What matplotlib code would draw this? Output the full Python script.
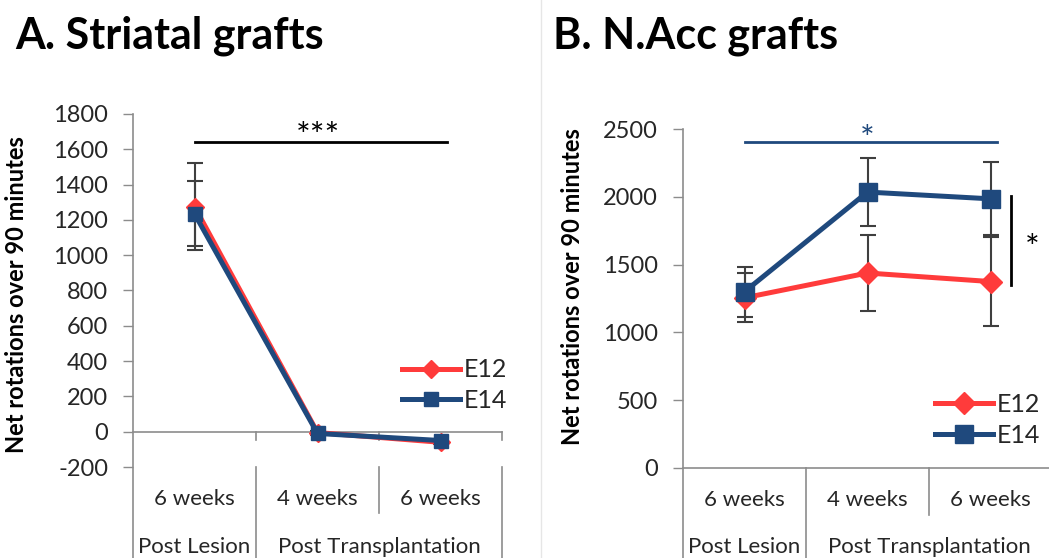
import matplotlib
matplotlib.use("Agg")
import matplotlib.pyplot as plt
from matplotlib.lines import Line2D

plt.rcParams['font.family'] = ['Lato', 'DejaVu Sans']

# ---- data ----
weeks = ["6 weeks", "4 weeks", "6 weeks"]
groups = ["Post Lesion", "Post Transplantation"]
series = ["E12", "E14"]

a_e12 = [1275, -5, -60]
a_e12_err = [245, 10, 10]
a_e14 = [1235, -10, -50]
a_e14_err = [185, 10, 10]

b_e12 = [1255, 1438, 1375]
b_e12_err = [180, 280, 325]
b_e14 = [1300, 2035, 1985]
b_e14_err = [183, 252, 268]

a_yticks = list(range(-200, 1801, 200))
b_yticks = list(range(0, 2501, 500))

RED = "#FF3B3B"
BLUE = "#1F497D"
GRAY = "#8C8C8C"
TXT = "#262626"
ERR = "#3F3F3F"

W, H = 1049, 558
fig = plt.figure(figsize=(W / 100, H / 100), dpi=100)


def px_axes(l, t, r, b):
    return fig.add_axes([l / W, (H - b) / H, (r - l) / W, (b - t) / H])


def setup(ax, ylim, yticks, ax_h_px, sep_px, zero_ticks, lab1_px, lab2_px):
    x = list(range(len(weeks)))
    ax.set_xlim(-0.5, 2.5)
    ax.set_ylim(*ylim)
    ax.set_yticks(yticks)
    ax.set_yticklabels([str(v) for v in yticks])
    ax.tick_params(axis='y', direction='out', length=7, width=1, color=GRAY,
                   labelcolor=TXT, labelsize=17, pad=11)
    ax.set_xticks([])
    for s in ax.spines.values():
        s.set_visible(False)
    ax.patch.set_alpha(0)
    xt = ax.get_xaxis_transform()
    lowest = -(110.0 / ax_h_px)
    ax.plot([-0.5, -0.5], [1, lowest], transform=xt, color=GRAY, lw=1.2, clip_on=False)
    ax.axhline(0, color=GRAY, lw=1.2, clip_on=False)
    if zero_ticks:
        y0 = ax.transLimits.transform((0, 0))[1]
        for xv in [0.5, 1.5, 2.5]:
            ax.plot([xv, xv], [y0, y0 - 8.0 / ax_h_px], transform=xt, color=GRAY,
                    lw=1.2, clip_on=False)
    ax.plot([0.5, 0.5], [0, lowest], transform=xt, color=GRAY, lw=1.2, clip_on=False)
    ax.plot([2.5, 2.5], [0, lowest], transform=xt, color=GRAY, lw=1.2, clip_on=False)
    ax.plot([1.5, 1.5], [0, -sep_px / ax_h_px], transform=xt, color=GRAY, lw=1.2,
            clip_on=False)
    for xi, w in zip(x, weeks):
        ax.text(xi, -lab1_px / ax_h_px, w, transform=xt, ha='center', va='center',
                fontsize=16, color=TXT, clip_on=False)
    ax.text(0, -lab2_px / ax_h_px, groups[0], transform=xt, ha='center', va='center',
            fontsize=16, color=TXT, clip_on=False)
    ax.text(1.5, -lab2_px / ax_h_px, groups[1], transform=xt, ha='center', va='center',
            fontsize=16, color=TXT, clip_on=False)


def draw(ax, e12, e12e, e14, e14e, ms_d, ms_s):
    x = list(range(len(weeks)))
    ax.errorbar(x, e12, yerr=e12e, fmt='none', ecolor=ERR, elinewidth=1.5,
                capsize=6, capthick=1.5, zorder=2)
    ax.errorbar(x, e14, yerr=e14e, fmt='none', ecolor=ERR, elinewidth=1.5,
                capsize=6, capthick=1.5, zorder=2)
    ax.plot(x, e12, color=RED, lw=3.6, marker='D', ms=ms_d, mfc=RED, mec=RED,
            label=series[0], zorder=3)
    ax.plot(x, e14, color=BLUE, lw=3.6, marker='s', ms=ms_s, mfc=BLUE, mec=BLUE,
            label=series[1], zorder=4)


# ---- Panel A ----
axA = px_axes(133, 114, 502, 467)
setup(axA, (-200, 1800), a_yticks, 353, 46, True, 32, 80)
draw(axA, a_e12, a_e12_err, a_e14, a_e14_err, 9, 10)
axA.plot([0, 2.05], [1643, 1643], color='black', lw=2, clip_on=False)
axA.text(1.0, 1578, "***", ha='center', va='bottom', fontsize=25, color='black')
legA = axA.legend(loc='center left', bbox_to_anchor=(0.729, 0.232), frameon=False,
                  fontsize=18, handlelength=2.3, handletextpad=0.15, borderpad=0,
                  borderaxespad=0, labelspacing=0.3, labelcolor=TXT)

# ---- Panel B ----
axB = px_axes(683, 129, 1052, 468)
setup(axB, (0, 2500), b_yticks, 339, 47, False, 32, 79)
draw(axB, b_e12, b_e12_err, b_e14, b_e14_err, 11, 13)
axB.plot([0, 2.05], [2404, 2404], color=BLUE, lw=2, clip_on=False)
axB.text(1.0, 2300, "*", ha='center', va='bottom', fontsize=25, color=BLUE)
axB.plot([2.17, 2.17], [1350, 2006], color='black', lw=2, clip_on=False)
axB.text(2.34, 1498, "*", ha='center', va='bottom', fontsize=25, color='black',
         clip_on=False)
legB = axB.legend(loc='center left', bbox_to_anchor=(0.683, 0.1416), frameon=False,
                  fontsize=18, handlelength=2.3, handletextpad=0.15, borderpad=0,
                  borderaxespad=0, labelspacing=0.3, labelcolor=TXT)

# titles and y labels
fig.text(15 / W, 1 - 36 / H, "A. Striatal grafts", fontsize=31, fontweight='bold',
         ha='left', va='center', color='black')
fig.text(553 / W, 1 - 36 / H, "B. N.Acc grafts", fontsize=31, fontweight='bold',
         ha='left', va='center', color='black')
fig.text(17 / W, 1 - 295 / H, "Net rotations over 90 minutes", rotation=90,
         fontsize=17, fontweight='bold', ha='center', va='center', color='black')
fig.text(572 / W, 1 - 287 / H, "Net rotations over 90 minutes", rotation=90,
         fontsize=17, fontweight='bold', ha='center', va='center', color='black')

fig.add_artist(Line2D([541 / W, 541 / W], [0, 1], color="#E6E6E6", lw=1))

fig.savefig("out.png", dpi=100)
